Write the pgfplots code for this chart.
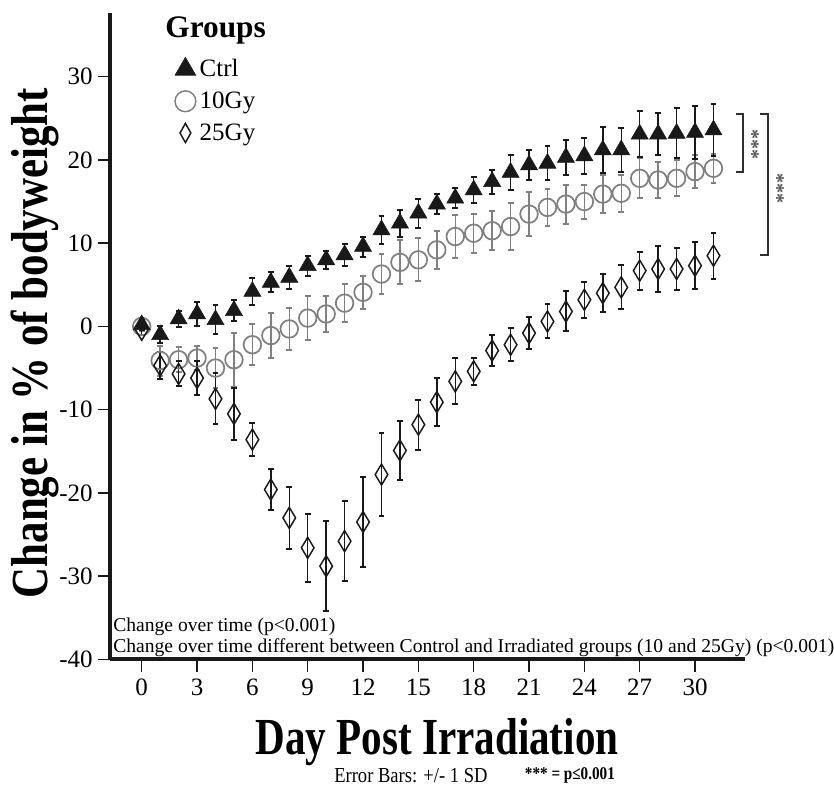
\documentclass[border=0pt]{standalone}
\usepackage{fontspec}
\setmainfont{Liberation Serif}
\usepackage{pgfplots}
\pgfplotsset{compat=1.18}
\usepackage{pgfplotstable}

\definecolor{cgray}{RGB}{128,128,128}
\definecolor{cblk}{RGB}{25,25,25}

% day, mean, sd
\pgfplotstableread{
d m e
0 0.2 0.6
1 -1.0 1.0
2 0.9 1.0
3 1.5 1.4
4 0.8 1.75
5 1.9 1.25
6 4.2 1.6
7 5.3 1.2
8 5.9 1.4
9 7.3 1.2
10 8.0 1.05
11 8.6 1.3
12 9.6 1.2
13 11.6 1.65
14 12.4 1.6
15 13.6 1.75
16 14.7 1.2
17 15.4 1.2
18 16.4 1.55
19 17.4 1.45
20 18.5 2.1
21 19.4 1.85
22 19.6 2.05
23 20.3 2.05
24 20.5 2.15
25 21.2 2.75
26 21.2 2.7
27 23.1 2.8
28 23.1 2.55
29 23.2 3.0
30 23.3 3.15
31 23.6 3.1
}\ctrl

\pgfplotstableread{
d m e
0 0.0 0.5
1 -4.1 1.8
2 -4.0 1.5
3 -3.8 1.4
4 -5.0 2.4
5 -4.0 3.25
6 -2.2 2.45
7 -1.1 2.7
8 -0.3 2.55
9 1.0 2.65
10 1.5 2.2
11 2.8 2.3
12 4.1 2.0
13 6.3 2.35
14 7.7 2.65
15 8.0 2.6
16 9.2 2.3
17 10.8 2.55
18 11.2 2.35
19 11.5 2.35
20 12.0 2.8
21 13.5 2.6
22 14.3 2.25
23 14.7 2.35
24 15.0 2.05
25 15.9 2.25
26 16.0 2.2
27 17.8 2.4
28 17.6 2.2
29 17.8 2.15
30 18.6 2.0
31 19.0 1.75
}\tengy

\pgfplotstableread{
d m e
0 -0.4 0.6
1 -4.7 1.6
2 -5.7 1.5
3 -6.2 2.05
4 -8.7 3.05
5 -10.5 3.15
6 -13.6 1.95
7 -19.6 2.45
8 -23.0 3.75
9 -26.6 4.1
10 -28.8 5.4
11 -25.8 4.8
12 -23.5 5.4
13 -17.8 4.95
14 -14.9 3.55
15 -11.8 3.0
16 -9.1 2.85
17 -6.6 2.75
18 -5.4 1.65
19 -2.9 1.9
20 -2.2 2.0
21 -0.8 1.95
22 0.6 2.05
23 1.8 2.4
24 3.2 2.15
25 4.0 2.3
26 4.7 2.65
27 6.7 2.3
28 6.9 2.75
29 6.9 2.55
30 7.3 2.85
31 8.5 2.75
}\twentyfivegy

\begin{document}
\begin{tikzpicture}
\path[use as bounding box] (-82.5pt,-95pt) rectangle (543pt,494.5pt);
\begin{axis}[
    scale only axis,
    width=476.25pt, height=485pt,
    xmin=-1.72, xmax=32.71,
    ymin=-40, ymax=37.7,
    axis x line=bottom, axis y line=left,
    axis line style={-, line width=3pt, cblk},
    tick align=outside,
    major tick length=9.3pt,
    tick style={line width=1.1pt, cblk},
    xtick={0,3,...,30},
    ytick={-40,-30,...,30},
    yticklabels={-40,-30,-20,-10,0,10,20,30},
    /pgf/number format/assume math mode=true,
    ticklabel style={font=\fontsize{18.75}{20}\selectfont},
    yticklabel style={inner sep=3.5pt},
    xticklabel style={inner sep=5pt},
    clip=false,
    xlabel={\scalebox{0.79}[1]{\fontsize{39}{40}\selectfont\bfseries Day Post Irradiation}},
    xlabel style={at={(axis description cs:0.515,-0.128)}, anchor=center},
    ylabel={\scalebox{0.825}[1]{\fontsize{39}{40}\selectfont\bfseries Change in \% of bodyweight}},
    ylabel style={at={(axis description cs:-0.118,0.489)}, anchor=center},
    legend image code/.code={\path (0cm,-0.2cm) (0.6cm,0.2cm); \draw[#1] plot coordinates {(0.3cm,0cm)};},
    legend style={at={(axis description cs:0.1,0.932)}, anchor=north west,
        draw=none, fill=none, inner sep=0pt, row sep=5.8pt,
        font=\fontsize{18.75}{20}\selectfont},
    legend cell align=left,
]
% legend images
\addlegendimage{only marks, mark=triangle*, mark size=9pt, cblk}
\addlegendentry{Ctrl}
\addlegendimage{only marks, mark=o, mark size=7.8pt, mark options={draw=cgray, line width=1.1pt}}
\addlegendentry{10Gy}
\addlegendimage{only marks, mark=diamond, mark size=7.2pt, mark options={draw=cblk, line width=1.1pt, xscale=0.75}}
\addlegendentry{25Gy}

% 10 Gy
\addplot[only marks, mark=o, mark size=6.6pt,
    mark options={draw=cgray, fill=none, line width=1.3pt},
    error bars/.cd, y dir=both, y explicit,
    error bar style={line width=1.1pt, cgray},
    error mark options={rotate=90, mark size=2.2pt, line width=1.5pt, cgray}]
    table[x=d, y=m, y error=e] {\tengy};
% 25 Gy
\addplot[only marks, mark=diamond, mark size=7.9pt,
    mark options={draw=cblk, fill=none, line width=1.1pt, xscale=0.8},
    error bars/.cd, y dir=both, y explicit,
    error bar style={line width=1.1pt, cblk},
    error mark options={rotate=90, mark size=2.2pt, line width=1.5pt, cblk}]
    table[x=d, y=m, y error=e] {\twentyfivegy};
% Ctrl
\addplot[only marks, mark=triangle*, mark size=7.4pt,
    mark options={draw=cblk, fill=cblk},
    error bars/.cd, y dir=both, y explicit,
    error bar style={line width=1.1pt, cblk},
    error mark options={rotate=90, mark size=2.2pt, line width=1.5pt, cblk}]
    table[x=d, y=m, y error=e] {\ctrl};

% significance brackets
\draw[line width=1.5pt, cblk!90] (axis cs:32.2,25.5) -- (axis cs:32.6,25.5) -- (axis cs:32.6,18.5) -- (axis cs:32.2,18.5);
\draw[line width=1.5pt, cblk!90] (axis cs:33.5,25.5) -- (axis cs:33.95,25.5) -- (axis cs:33.95,8.6) -- (axis cs:33.5,8.6);
\node[rotate=-90, font=\fontsize{15}{15}\selectfont\bfseries, text=cblk!75] at (axis cs:33.1,21.8) {***};
\node[rotate=-90, font=\fontsize{15}{15}\selectfont\bfseries, text=cblk!75] at (axis cs:34.45,16.6) {***};
\end{axis}

\node[anchor=west, font=\fontsize{23.5}{25}\selectfont\bfseries] at (38pt,472pt) {Groups};
\node[anchor=west, inner sep=0pt, font=\fontsize{14.7}{16}\selectfont] at (2.25pt,24.25pt) {Change over time (p<0.001)};
\node[anchor=west, inner sep=0pt, font=\fontsize{14.7}{16}\selectfont] at (2.25pt,8.75pt) {Change over time different between Control and Irradiated groups (10 and 25Gy) (p<0.001)};
\node[anchor=west, inner sep=0pt] at (168pt,-87pt) {\scalebox{0.87}[1]{\fontsize{16}{18}\selectfont Error Bars: +/- 1 SD}};
\node[anchor=west, inner sep=0pt] at (311pt,-87pt) {\scalebox{0.85}[1]{\fontsize{13.4}{14}\selectfont\bfseries *** = p≤0.001}};
\end{tikzpicture}
\end{document}
